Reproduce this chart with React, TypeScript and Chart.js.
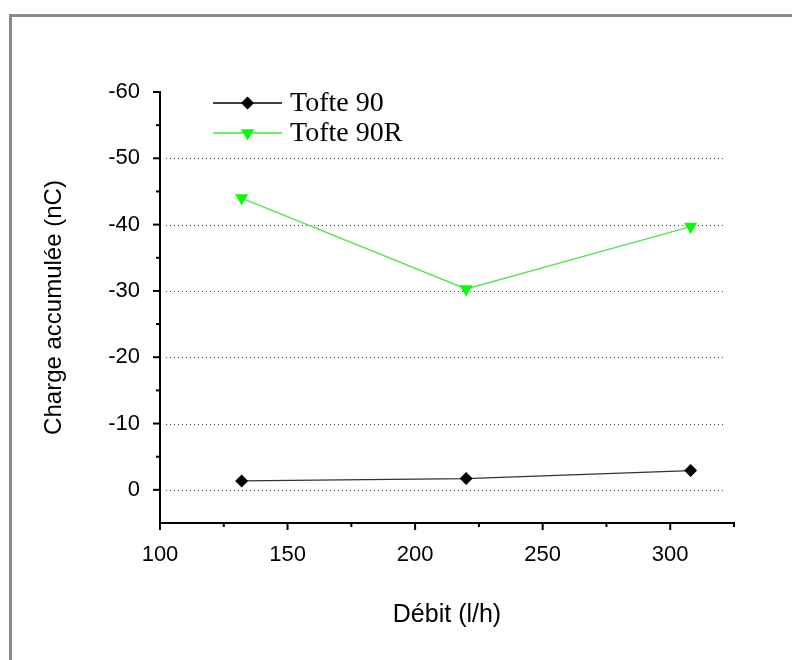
import React, { useEffect, useRef } from "react";
import { Chart, registerables } from "chart.js";
Chart.register(...registerables);

const xValues = [132, 220, 308];
const tofte90 = [-1.35, -1.7, -2.9];
const tofte90R = [-44.0, -30.3, -39.7];
const seriesNames = ["Tofte 90", "Tofte 90R"];
const yMajorTicks = [-60, -50, -40, -30, -20, -10, 0];
const yMinorTicks = [-55, -45, -35, -25, -15, -5];
const yGridValues = [-50, -40, -30, -20, -10, 0];
const xMajorTicks = [100, 150, 200, 250, 300];
const xMinorTicks = [125, 175, 225, 275, 325];
const xTitle = "Débit (l/h)";
const yTitle = "Charge accumulée (nC)";

function drawMarker(ctx: CanvasRenderingContext2D, kind: string, x: number, y: number, fill: string) {
  ctx.save();
  ctx.fillStyle = fill;
  ctx.setLineDash([]);
  ctx.beginPath();
  if (kind === "diamond") {
    const r = 6.5;
    ctx.moveTo(x - r, y);
    ctx.lineTo(x, y - r);
    ctx.lineTo(x + r, y);
    ctx.lineTo(x, y + r);
  } else {
    const r = 7.5;
    const h = r * Math.sqrt(3) / 2;
    ctx.moveTo(x - h, y - r / 2);
    ctx.lineTo(x + h, y - r / 2);
    ctx.lineTo(x, y + r);
  }
  ctx.closePath();
  ctx.fill();
  ctx.restore();
}

const decorPlugin = {
  id: "decor",
  beforeDatasetsDraw(chart: any) {
    const { ctx, chartArea } = chart;
    const ys = chart.scales.y;
    ctx.save();
    ctx.strokeStyle = "#444";
    ctx.lineWidth = 1;
    ctx.setLineDash([1, 3]);
    for (const v of yGridValues) {
      const y = Math.round(ys.getPixelForValue(v)) + 0.5;
      ctx.beginPath();
      ctx.moveTo(chartArea.left + 6, y);
      ctx.lineTo(chartArea.right - 11, y);
      ctx.stroke();
    }
    ctx.restore();
  },
  afterDraw(chart: any) {
    const { ctx, chartArea } = chart;
    const ys = chart.scales.y;
    const xs = chart.scales.x;
    ctx.save();
    ctx.strokeStyle = "#000";
    ctx.lineWidth = 2;
    ctx.setLineDash([]);
    const yt = (v: number, len: number) => {
      const y = ys.getPixelForValue(v);
      ctx.beginPath();
      ctx.moveTo(chartArea.left - len, y);
      ctx.lineTo(chartArea.left, y);
      ctx.stroke();
    };
    yMajorTicks.forEach((v) => yt(v, 7));
    yMinorTicks.forEach((v) => yt(v, 4));
    const xt = (v: number, len: number) => {
      const x = xs.getPixelForValue(v);
      ctx.beginPath();
      ctx.moveTo(x, chartArea.bottom);
      ctx.lineTo(x, chartArea.bottom + len);
      ctx.stroke();
    };
    xMajorTicks.forEach((v) => xt(v, 7));
    xMinorTicks.forEach((v) => xt(v, 4));

    // legend
    const kinds = ["diamond", "triangle"];
    const lineColors = ["#000", "#33ee33"];
    const fills = ["#000", "#00ff00"];
    chart.data.datasets.forEach((ds: any, i: number) => {
      const y = chartArea.top + 11 + i * 30;
      const x0 = chartArea.left + 53;
      const x1 = chartArea.left + 122;
      ctx.strokeStyle = lineColors[i];
      ctx.lineWidth = 1.5;
      ctx.beginPath();
      ctx.moveTo(x0, y);
      ctx.lineTo(x1, y);
      ctx.stroke();
      drawMarker(ctx, kinds[i], (x0 + x1) / 2, y, fills[i]);
      ctx.fillStyle = "#000";
      ctx.font = '28px "Liberation Serif"';
      ctx.textBaseline = "middle";
      ctx.textAlign = "left";
      ctx.fillText(ds.label, chartArea.left + 130, y + 1);
    });
    ctx.restore();
  },
};

export default function App() {
  const ref = useRef<HTMLCanvasElement>(null);
  useEffect(() => {
    if (!ref.current) return;
    const chart = new Chart(ref.current, {
      type: "line",
      data: {
        datasets: [
          {
            label: seriesNames[0],
            data: xValues.map((x, i) => ({ x, y: tofte90[i] })),
            borderColor: "#333",
            borderWidth: 1.3,
            pointStyle: "rectRot",
            pointRadius: 6.5,
            pointBorderWidth: 0,
            pointBackgroundColor: "#000",
            pointBorderColor: "#000",
            tension: 0,
          },
          {
            label: seriesNames[1],
            data: xValues.map((x, i) => ({ x, y: tofte90R[i] })),
            borderColor: "rgb(90,225,90)",
            borderWidth: 1.5,
            pointStyle: "triangle",
            pointRotation: 180,
            pointRadius: 7.5,
            pointBorderWidth: 0,
            pointBackgroundColor: "#00ff00",
            pointBorderColor: "#00ff00",
            tension: 0,
          },
        ],
      },
      options: {
        animation: false,
        responsive: false,
        layout: { padding: { left: 0, top: 92, right: 58, bottom: 0 } },
        plugins: { legend: { display: false }, tooltip: { enabled: false } },
        scales: {
          x: {
            type: "linear",
            min: 100,
            max: 325,
            afterFit: (s: any) => { s.height = 137; },
            afterBuildTicks: (s: any) => { s.ticks = xMajorTicks.map((v) => ({ value: v })); },
            grid: { display: false },
            border: { display: true, color: "#000", width: 2 },
            ticks: {
              color: "#000",
              padding: 11,
              font: { family: '"Liberation Sans", Arial, sans-serif', size: 22 },
            },
            title: {
              display: true,
              text: xTitle,
              color: "#000",
              padding: { top: 0, bottom: 30 },
              font: { family: '"Liberation Sans", Arial, sans-serif', size: 25 },
            },
          },
          y: {
            type: "linear",
            reverse: true,
            min: -60,
            max: 5,
            afterFit: (s: any) => { s.width = 160; },
            afterBuildTicks: (s: any) => { s.ticks = yMajorTicks.map((v) => ({ value: v })); },
            grid: { display: false },
            border: { display: true, color: "#000", width: 2 },
            ticks: {
              color: "#000",
              padding: 12,
              font: { family: '"Liberation Sans", Arial, sans-serif', size: 22 },
            },
            title: {
              display: true,
              text: yTitle,
              color: "#000",
              padding: { top: 40, bottom: 0 },
              font: { family: '"Liberation Sans", Arial, sans-serif', size: 24 },
            },
          },
        },
      },
      plugins: [decorPlugin],
    } as any);
    return () => chart.destroy();
  }, []);
  return (
    <div style={{ position: "fixed", left: 0, top: 0, width: 792, height: 660, background: "#fff", overflow: "hidden" }}>
      <div
        style={{
          position: "absolute",
          left: 9,
          top: 14,
          width: 800,
          height: 700,
          borderTop: "3px solid #8a8a8a",
          borderLeft: "3px solid #8a8a8a",
        }}
      />
      <canvas ref={ref} width={792} height={660} style={{ position: "absolute", left: 0, top: 0, width: 792, height: 660 }} />
    </div>
  );
}
